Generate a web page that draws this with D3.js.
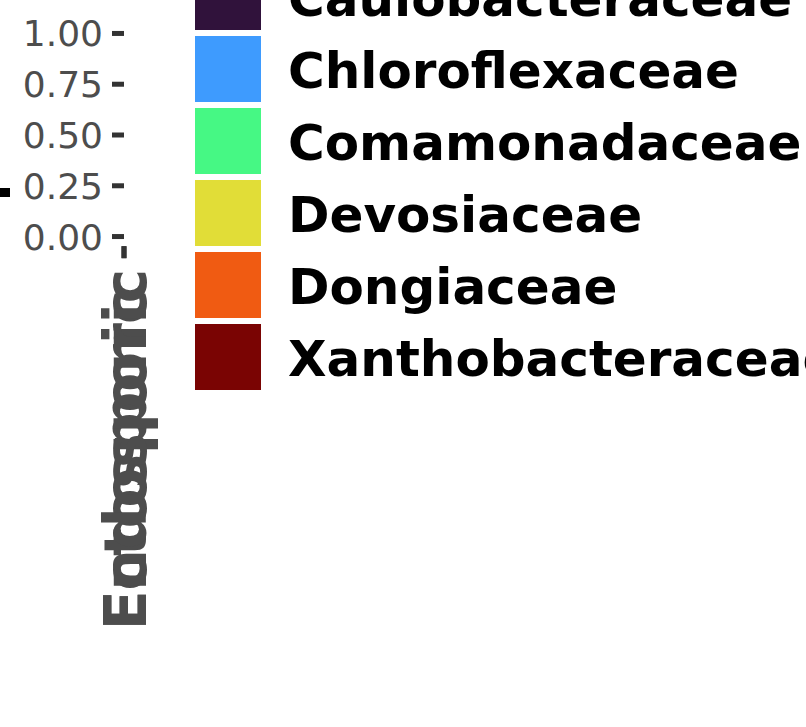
<!DOCTYPE html>
<html>
<head>
<meta charset="utf-8">
<script src="https://cdn.jsdelivr.net/npm/d3@7"></script>
<style>
  html, body { margin: 0; padding: 0; background: #ffffff; }
  svg { display: block; font-family: "DejaVu Sans", sans-serif; }
</style>
</head>
<body>
<svg id="chart" width="806" height="727"></svg>
<script>
// ---- data ----
const categories = ["Ectosporic", "Endosporic"];
const yTicks = [0, 0.25, 0.5, 0.75, 1];
const families = ["Caulobacteraceae", "Chloroflexaceae", "Comamonadaceae", "Devosiaceae", "Dongiaceae", "Xanthobacteraceae"];
const familyColors = ["#30123B", "#3E9BFE", "#46F884", "#E1DD37", "#F05B12", "#7A0403"];

const svg = d3.select("#chart");
svg.append("rect").attr("width", 806).attr("height", 727).attr("fill", "#ffffff");

// collapsed panel (the huge legend took nearly all the width)
const panelLeft = 124, panelRight = 124;
const y = d3.scaleLinear().domain([-0.05, 1.05]).range([246.2, 22.8]);
const x = d3.scalePoint().domain(categories).range([panelLeft - 0.5, panelRight - 0.5]);

// y axis
const yAxis = svg.append("g").attr("transform", `translate(${panelLeft},0)`)
  .call(d3.axisLeft(y).tickValues(yTicks).tickFormat(d3.format(".2f")).tickSize(12).tickPadding(9));
yAxis.select(".domain").remove();
yAxis.selectAll(".tick line").attr("stroke", "#333333").attr("stroke-width", 5);
yAxis.selectAll(".tick text")
  .attr("fill", "#4D4D4D").attr("font-size", 36).attr("font-family", "DejaVu Sans")
  .attr("dy", "0.36em");

// x axis
const xAxis = svg.append("g").attr("transform", `translate(0,${y(-0.05)})`)
  .call(d3.axisBottom(x).tickSize(12).tickFormat(""));
xAxis.select(".domain").remove();
xAxis.selectAll(".tick line").attr("stroke", "#333333").attr("stroke-width", 5);

// rotated x labels (they overlap because the panel has no width)
svg.append("g").selectAll("text").data(categories).join("text")
  .attr("transform", d => `translate(${x(d) + 22},630) rotate(-90)`)
  .attr("text-anchor", "start")
  .attr("font-size", 58).attr("font-weight", "bold")
  .attr("fill", "#4D4D4D")
  .text(d => d);

// clipped fragment at left edge
svg.append("rect").attr("x", 0).attr("y", 188).attr("width", 10).attr("height", 9).attr("fill", "#000000");

// legend
const keyH = 66, keyGap = 6, legendTop = -36;
const ly = d3.scaleBand().domain(families)
  .range([legendTop, legendTop + families.length * (keyH + keyGap) - keyGap])
  .paddingInner(keyGap / (keyH + keyGap)).paddingOuter(0);
const color = d3.scaleOrdinal().domain(families).range(familyColors);

const lg = svg.append("g");
lg.selectAll("rect").data(families).join("rect")
  .attr("x", 195).attr("y", d => ly(d))
  .attr("width", 66).attr("height", keyH)
  .attr("fill", d => color(d));
lg.selectAll("text").data(families).join("text")
  .attr("x", 288).attr("y", d => ly(d) + keyH / 2 + 19)
  .attr("font-size", 50).attr("font-weight", "bold").attr("fill", "#000000")
  .text(d => d);
</script>
</body>
</html>
